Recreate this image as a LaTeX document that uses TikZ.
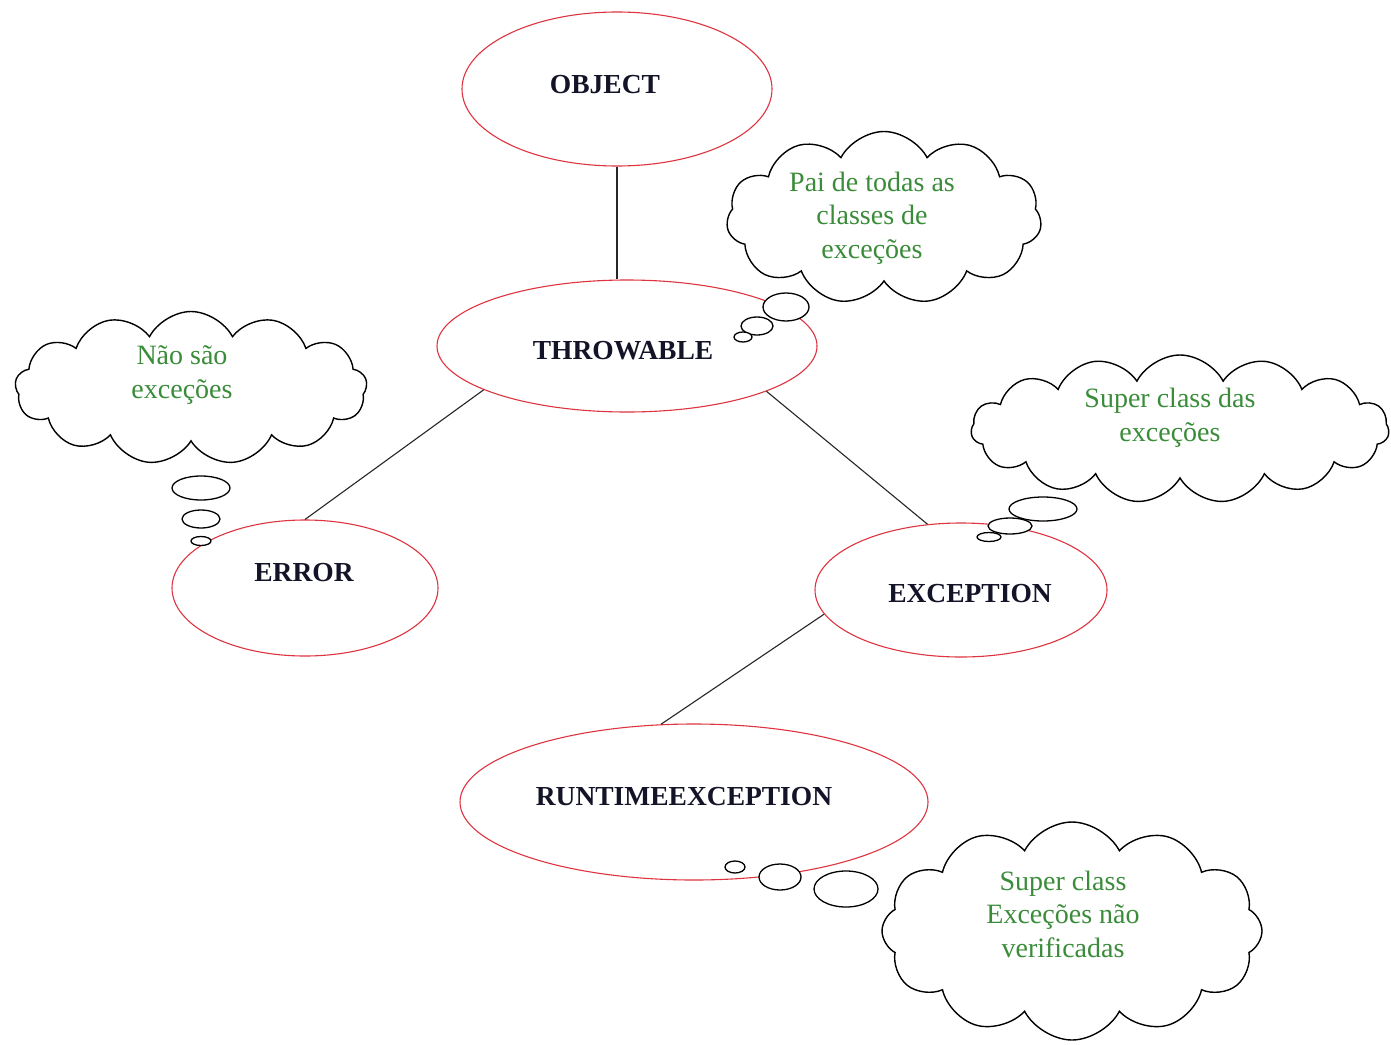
\documentclass[tikz,border=0pt]{standalone}
\usepackage{fontspec}
\setmainfont{Liberation Serif}
\usetikzlibrary{shapes.geometric,shapes.symbols}
\definecolor{ered}{RGB}{222,52,64}
\definecolor{tgreen}{RGB}{58,140,58}
\definecolor{tdark}{RGB}{20,20,40}
\begin{document}
\begin{tikzpicture}[x=1pt,y=-1pt,
 cls/.style={ellipse,draw=ered,line width=1.1pt,fill=white,inner sep=0pt},
 lbl/.style={font=\fontsize{27.5}{30}\selectfont\bfseries,text=tdark,inner sep=0pt},
 thought/.style={cloud,draw=black,line width=1.4pt,fill=white,cloud puffs=12,cloud puff arc=125,cloud ignores aspect,inner sep=0pt},
 note/.style={font=\fontsize{28}{33.5}\selectfont,text=tgreen,align=center,inner sep=0pt},
 bub/.style={ellipse,draw=black,line width=1.3pt,fill=white,inner sep=0pt},
 link/.style={draw=black!85,line width=1.1pt}]
\useasboundingbox (0,0) rectangle (1391,1044);
\fill[white] (0,0) rectangle (1391,1044);

% class ellipses
\node[cls,minimum width=310pt,minimum height=154pt] (obj) at (617,89) {};
\node[cls,minimum width=380pt,minimum height=132pt] (thr) at (627,346) {};
\node[cls,minimum width=266pt,minimum height=136pt] (err) at (305,588) {};
\node[cls,minimum width=292pt,minimum height=134pt] (exc) at (961,590) {};
\node[cls,minimum width=468pt,minimum height=156pt] (rte) at (694,802) {};

% labels
\node[lbl] (objt) at (605,85) {OBJECT};
\node[lbl] (thrt) at (623,351) {THROWABLE};
\node[lbl] (errt) at (304,573) {ERROR};
\node[lbl] (exct) at (970,594) {EXCEPTION};
\node[lbl] (rtet) at (684,797) {RUNTIMEEXCEPTION};

% connectors
\draw[link] (obj.south) -- (obj.south |- thr.north);
\draw[link] (thr.197) -- (err.north);
\draw[link] (thr.342) -- (exc.117);
\draw[link] (exc.190.6) -- (rte.113.8);

% clouds
\node[thought,minimum width=315pt,minimum height=173pt,cloud puffs=11] (c1) at (884,218) {};
\node[thought,minimum width=352pt,minimum height=153pt,cloud puffs=13] (c2) at (191,388) {};
\node[thought,minimum width=418pt,minimum height=148pt,cloud puffs=15] (c3) at (1180,429) {};
\node[thought,minimum width=380pt,minimum height=218pt,cloud puffs=12] (c4) at (1072,931) {};

% thought bubbles
\node[bub,minimum width=46pt,minimum height=28pt] (b1a) at (786,307) {};
\node[bub,minimum width=32pt,minimum height=18pt] (b1b) at (757,326) {};
\node[bub,minimum width=18pt,minimum height=10pt] (b1c) at (743,337) {};

\node[bub,minimum width=58pt,minimum height=24pt] (b2a) at (201,488) {};
\node[bub,minimum width=38pt,minimum height=18pt] (b2b) at (201,519) {};
\node[bub,minimum width=20pt,minimum height=9pt] (b2c) at (201,541) {};

\node[bub,minimum width=68pt,minimum height=24pt] (b3a) at (1043,509) {};
\node[bub,minimum width=44pt,minimum height=16pt] (b3b) at (1010,526) {};
\node[bub,minimum width=24pt,minimum height=9pt] (b3c) at (989,537) {};

\node[bub,minimum width=20pt,minimum height=12pt] (b4a) at (735,867) {};
\node[bub,minimum width=42pt,minimum height=26pt] (b4b) at (780,877) {};
\node[bub,minimum width=64pt,minimum height=36pt] (b4c) at (846,889) {};

% cloud texts
\node[note] (t1) at (872,218) {Pai de todas as\\classes de\\exceções};
\node[note] (t2) at (182,375) {Não são\\exceções};
\node[note] (t3) at (1170,418) {Super class das\\exceções};
\node[note] (t4) at (1063,914) {Super class\\Exceções não\\verificadas};
\end{tikzpicture}
\end{document}
